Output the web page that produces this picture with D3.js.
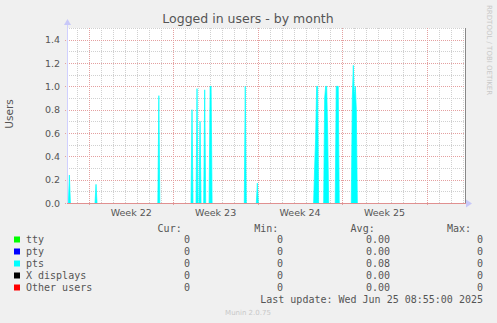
<!DOCTYPE html>
<html>
<head>
<script src="https://cdn.jsdelivr.net/npm/d3@7"></script>
<style>
    body{ margin:0; background:#f0f0f0; font-family:"DejaVu Sans",sans-serif; }
</style>
</head>
<body>
<div id="chart"></div>
<script>

    // graph window (33 days, munin "month")
    var startTime = new Date("2025-05-24T04:15:00")
    var endTime = new Date("2025-06-26T04:15:00")

    var yTicks = [0, 0.2, 0.4, 0.6, 0.8, 1.0, 1.2, 1.4]
    var weekLabels = ["Week 22", "Week 23", "Week 24", "Week 25"]

    // pts samples (everything else is 0)
    var ptsTimes = [
        "2025-05-24T07:00", "2025-05-24T09:00", "2025-05-24T11:00",
        "2025-05-26T12:00", "2025-05-26T14:00", "2025-05-26T16:00",
        "2025-05-31T17:00", "2025-05-31T19:00", "2025-05-31T21:00",
        "2025-06-03T11:00", "2025-06-03T13:00", "2025-06-03T15:00",
        "2025-06-03T21:00", "2025-06-03T23:00", "2025-06-04T01:00",
        "2025-06-04T03:00", "2025-06-04T05:00", "2025-06-04T07:00",
        "2025-06-04T12:15", "2025-06-04T14:15", "2025-06-04T16:15",
        "2025-06-04T23:00", "2025-06-05T01:00", "2025-06-05T03:00", "2025-06-05T05:00",
        "2025-06-07T21:00", "2025-06-07T23:00", "2025-06-08T01:00",
        "2025-06-08T21:00", "2025-06-08T23:00", "2025-06-09T01:00",
        "2025-06-13T15:00", "2025-06-13T17:00", "2025-06-13T19:00", "2025-06-13T21:00", "2025-06-13T23:00", "2025-06-14T01:00",
        "2025-06-14T11:00", "2025-06-14T13:00", "2025-06-14T15:00", "2025-06-14T17:00", "2025-06-14T19:00", "2025-06-14T21:00",
        "2025-06-15T10:00", "2025-06-15T12:00", "2025-06-15T14:00", "2025-06-15T16:00", "2025-06-15T18:00",
        "2025-06-16T18:00", "2025-06-16T20:00", "2025-06-16T22:00", "2025-06-17T00:00", "2025-06-17T02:00", "2025-06-17T04:00", "2025-06-17T06:00"
    ]
    var ptsValues = [
        0, 0.24, 0,
        0, 0.16, 0,
        0, 0.92, 0,
        0, 0.80, 0,
        0, 0.98, 0,
        0, 0.70, 0,
        0, 0.97, 0,
        0, 1.0, 1.0, 0,
        0, 1.0, 0,
        0, 0.17, 0,
        0, 0.30, 0.55, 1.0, 1.0, 0,
        0, 0.90, 1.0, 1.0, 0.60, 0,
        0, 1.0, 1.0, 1.0, 0,
        0, 0.90, 1.18, 0.90, 1.0, 0.80, 0
    ]

    var seriesNames = ["tty", "pty", "pts", "X displays", "Other users"]
    var seriesColors = ["#00ff00", "#0000ff", "#00ffff", "#000000", "#ff0000"]
    var curValues = ["0", "0", "0", "0", "0"]
    var minValues = ["0", "0", "0", "0", "0"]
    var avgValues = ["0.00", "0.00", "0.08", "0.00", "0.00"]
    var maxValues = ["0", "0", "0", "0", "0"]

    var plotL = 67, plotR = 465, plotT = 28, plotB = 203
    var textColor = "#555"
    var mono = "'DejaVu Sans Mono',monospace"

    var svg = d3.select("#chart").append("svg")
        .attr("width", 497).attr("height", 323)
        .style("display", "block")

    svg.append("rect").attr("width", 497).attr("height", 323).attr("fill", "#f0f0f0")

    var xScale = d3.scaleTime().domain([startTime, endTime]).range([plotL, plotR])
    var yScale = d3.scaleLinear().domain([0, 1.5]).range([plotB, plotT])

    svg.append("rect").attr("x", plotL).attr("y", plotT)
        .attr("width", plotR - plotL).attr("height", plotB - plotT).attr("fill", "white")

    var grid = svg.append("g")
    var mondays = d3.timeMonday.range(startTime, endTime)
    var mondayX = mondays.map(function(d){ return Math.round(xScale(d)) })

    // minor grid
    yScale.ticks(15).forEach(function(v){
        if(yTicks.indexOf(Math.round(v * 10) / 10) >= 0) return
        var y = Math.round(yScale(v)) + 0.5
        grid.append("line").attr("x1", plotL).attr("x2", plotR).attr("y1", y).attr("y2", y)
            .attr("stroke", "#d0d0d0").attr("stroke-dasharray", "1,1")
    })
    d3.timeDay.range(startTime, endTime).forEach(function(d){
        var x = Math.round(xScale(d))
        if(mondayX.indexOf(x) >= 0) return
        grid.append("line").attr("x1", x + 0.5).attr("x2", x + 0.5).attr("y1", plotT).attr("y2", plotB)
            .attr("stroke", "#d0d0d0").attr("stroke-dasharray", "1,1")
    })
    // major grid
    yTicks.forEach(function(v){
        var y = Math.round(yScale(v)) + 0.5
        grid.append("line").attr("x1", plotL - 2).attr("x2", plotR + 2).attr("y1", y).attr("y2", y)
            .attr("stroke", "#e4a0a0").attr("stroke-dasharray", "1,1")
    })
    mondayX.forEach(function(x){
        grid.append("line").attr("x1", x + 0.5).attr("x2", x + 0.5).attr("y1", plotT).attr("y2", plotB + 2)
            .attr("stroke", "#e4a0a0").attr("stroke-dasharray", "1,1")
    })

    // pts area
    var ptsData = ptsTimes.map(function(t, i){ return [new Date(t), ptsValues[i]] })
    var area = d3.area()
        .x(function(d){ return xScale(d[0]) })
        .y0(yScale(0))
        .y1(function(d){ return yScale(d[1]) })
    // split at the zero samples so every spike is drawn on its own
    var spikes = [], cur = []
    ptsData.forEach(function(d, i){
        cur.push(d)
        if(d[1] == 0 && cur.length > 1){ spikes.push(cur); cur = [] }
    })
    spikes.forEach(function(s){
        svg.append("path").attr("d", area(s)).attr("fill", "#00ffff")
            .attr("stroke", "#00ffff").attr("stroke-width", 0.7).attr("stroke-linejoin", "round")
    })

    // axes
    svg.append("line").attr("x1", plotL).attr("x2", plotR + 1)
        .attr("y1", plotB + 0.5).attr("y2", plotB + 0.5)
        .attr("stroke", "#e09090").attr("stroke-width", 1.2)
    svg.append("line").attr("x1", plotL + 0.5).attr("x2", plotL + 0.5)
        .attr("y1", plotB).attr("y2", plotT - 4)
        .attr("stroke", "#d0d0ff")
    svg.append("path").attr("d", "M" + (plotL - 3) + "," + (plotT - 3) + "L" + (plotL + 0.5) + "," + (plotT - 9) + "L" + (plotL + 4) + "," + (plotT - 3) + "Z")
        .attr("fill", "#c8c8f8")
    svg.append("path").attr("d", "M" + (plotR + 1) + "," + (plotB - 3.5) + "L" + (plotR + 7) + "," + (plotB + 0.5) + "L" + (plotR + 1) + "," + (plotB + 4.5) + "Z")
        .attr("fill", "#c8c8f8")
    svg.append("line").attr("x1", plotR + 0.5).attr("x2", plotR + 0.5)
        .attr("y1", plotT).attr("y2", plotB)
        .attr("stroke", "#888")

    // y tick labels
    yTicks.forEach(function(v){
        svg.append("text").text(v.toFixed(1))
            .attr("x", 60).attr("y", yScale(v) + 3.5)
            .attr("text-anchor", "end").attr("font-size", 9.5).attr("fill", textColor)
    })

    // week labels, centred in their week
    weekLabels.forEach(function(lbl, i){
        var x0 = xScale(mondays[i])
        var x1 = xScale(d3.timeMonday.offset(mondays[i], 1))
        svg.append("text").text(lbl)
            .attr("x", (x0 + x1) / 2).attr("y", 216)
            .attr("text-anchor", "middle").attr("font-size", 9.5).attr("fill", textColor)
    })

    svg.append("text").text("Logged in users - by month")
        .attr("x", 248).attr("y", 23)
        .attr("text-anchor", "middle").attr("font-size", 12.5).attr("fill", textColor)

    svg.append("text").text("Users")
        .attr("transform", "translate(13,114) rotate(-90)")
        .attr("text-anchor", "middle").attr("font-size", 10.5).attr("fill", textColor)

    svg.append("text").text("RRDTOOL / TOBI OETIKER")
        .attr("transform", "translate(487,5) rotate(90)")
        .attr("text-anchor", "start").attr("font-size", 7).attr("fill", "#c8c8c8")

    // legend
    var headers = [["Cur:", 181.7], ["Min:", 278.3], ["Avg:", 374.7], ["Max:", 471]]
    headers.forEach(function(h){
        svg.append("text").text(h[0]).attr("x", h[1]).attr("y", 231.5)
            .attr("text-anchor", "end").attr("font-family", mono).attr("font-size", 10).attr("fill", textColor)
    })
    var cols = [[curValues, 190], [minValues, 283], [avgValues, 390], [maxValues, 483]]
    seriesNames.forEach(function(name, i){
        var y = 243 + i * 12
        svg.append("rect").attr("x", 14).attr("y", y - 6.5).attr("width", 6).attr("height", 6)
            .attr("fill", seriesColors[i])
        svg.append("text").text(name).attr("x", 26).attr("y", y)
            .attr("font-family", mono).attr("font-size", 10).attr("fill", textColor)
        cols.forEach(function(c){
            svg.append("text").text(c[0][i]).attr("x", c[1]).attr("y", y)
                .attr("text-anchor", "end").attr("font-family", mono).attr("font-size", 10).attr("fill", textColor)
        })
    })

    svg.append("text").text("Last update: Wed Jun 25 08:55:00 2025")
        .attr("x", 483).attr("y", 302.5)
        .attr("text-anchor", "end").attr("font-family", mono).attr("font-size", 10).attr("fill", textColor)

    svg.append("text").text("Munin 2.0.75")
        .attr("x", 248).attr("y", 315)
        .attr("text-anchor", "middle").attr("font-size", 7).attr("fill", "#c8c8c8")

</script>
</body>
</html>
